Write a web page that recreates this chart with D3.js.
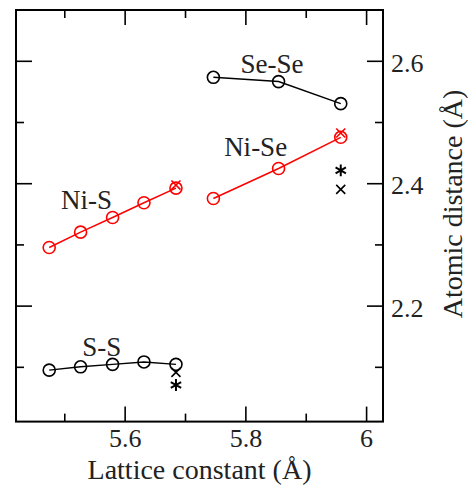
<!DOCTYPE html>
<html><head><meta charset="utf-8">
<script src="https://cdn.jsdelivr.net/npm/d3@7"></script>
<style>body{margin:0;background:#fff}svg{display:block}
svg text{font-family:"Liberation Serif","DejaVu Serif",serif !important;}</style>
</head><body>
<script>
// Data
const ssX = [5.475, 5.527, 5.580, 5.632, 5.685];
const ssY = [2.0946, 2.100, 2.104, 2.108, 2.104];
const nisX = [5.475, 5.527, 5.580, 5.632, 5.685];
const nisY = [2.295, 2.320, 2.344, 2.368, 2.392];
const niseX = [5.747, 5.855, 5.958];
const niseY = [2.375, 2.424, 2.475];
const seseX = [5.747, 5.855, 5.958];
const seseY = [2.573, 2.566, 2.530];
const redCrossX = [5.685, 5.958];
const redCrossY = [2.397, 2.482];
const blackStarX = [5.958, 5.685];
const blackStarY = [2.421, 2.0703];
const blackCrossX = [5.958, 5.685];
const blackCrossY = [2.390, 2.091];
const xMajor = [5.6, 5.8, 6.0];
const xMinor = [5.5, 5.7, 5.9];
const yMajor = [2.2, 2.4, 2.6];
const yMinor = [2.1, 2.3, 2.5];
const labels = [
  {text: "Se-Se", x: 5.844, y: 2.58},
  {text: "Ni-Se", x: 5.817, y: 2.444},
  {text: "Ni-S", x: 5.537, y: 2.358},
  {text: "S-S", x: 5.562, y: 2.117}
];

const W = 470, H = 485;
const L = 16, R = 383, T = 10, B = 421.6;
const svg = d3.select("body").append("svg").attr("width", W).attr("height", H);
const x = d3.scaleLinear().domain([5.42, 6.028]).range([L, R]);
const y = d3.scaleLinear().domain([2.0105, 2.683]).range([B, T]);
const font = "Liberation Serif";
const txt = "#222";

function axisStyle(g) {
  g.attr("font-family", font);
  g.select(".domain").remove();
  g.selectAll("line").attr("stroke", "#000").attr("stroke-width", 1.6);
  g.selectAll("text").attr("font-family", font).attr("font-size", 26).attr("fill", txt);
}
// bottom
svg.append("g").attr("transform", `translate(0,${B})`)
  .call(d3.axisBottom(x).tickValues(xMajor).tickSize(-15).tickSizeOuter(0).tickPadding(7).tickFormat(d3.format("~g")))
  .call(axisStyle);
svg.append("g").attr("transform", `translate(0,${B})`)
  .call(d3.axisBottom(x).tickValues(xMinor).tickSize(-8).tickSizeOuter(0).tickFormat(""))
  .call(axisStyle);
// top
svg.append("g").attr("transform", `translate(0,${T})`)
  .call(d3.axisTop(x).tickValues(xMajor).tickSize(-15).tickSizeOuter(0).tickFormat(""))
  .call(axisStyle);
svg.append("g").attr("transform", `translate(0,${T})`)
  .call(d3.axisTop(x).tickValues(xMinor).tickSize(-8).tickSizeOuter(0).tickFormat(""))
  .call(axisStyle);
// right
svg.append("g").attr("transform", `translate(${R},0)`)
  .call(d3.axisRight(y).tickValues(yMajor).tickSize(-16).tickSizeOuter(0).tickPadding(8).tickFormat(d3.format(".1f")))
  .call(axisStyle)
  .call(g => g.selectAll("text").attr("dy", "0.4em"));
svg.append("g").attr("transform", `translate(${R},0)`)
  .call(d3.axisRight(y).tickValues(yMinor).tickSize(-8).tickSizeOuter(0).tickFormat(""))
  .call(axisStyle);
// left
svg.append("g").attr("transform", `translate(${L},0)`)
  .call(d3.axisLeft(y).tickValues(yMajor).tickSize(-16).tickSizeOuter(0).tickFormat(""))
  .call(axisStyle);
svg.append("g").attr("transform", `translate(${L},0)`)
  .call(d3.axisLeft(y).tickValues(yMinor).tickSize(-8).tickSizeOuter(0).tickFormat(""))
  .call(axisStyle);

// frame
svg.append("rect").attr("x", L).attr("y", T).attr("width", R - L).attr("height", B - T)
  .attr("fill", "none").attr("stroke", "#000").attr("stroke-width", 2);

const line = d3.line().x(d => x(d[0])).y(d => y(d[1]));
function series(xs, ys, color) {
  const pts = xs.map((v, i) => [v, ys[i]]);
  svg.append("path").datum(pts).attr("d", line).attr("fill", "none")
    .attr("stroke", color).attr("stroke-width", 1.5);
  svg.selectAll(null).data(pts).enter().append("circle")
    .attr("cx", d => x(d[0])).attr("cy", d => y(d[1])).attr("r", 6)
    .attr("fill", "none").attr("stroke", color).attr("stroke-width", 1.6);
}
series(ssX, ssY, "#000");
series(nisX, nisY, "#ff0000");
series(niseX, niseY, "#ff0000");
series(seseX, seseY, "#000");

function markers(xs, ys, type, size, color, sw) {
  const pts = xs.map((v, i) => [v, ys[i]]);
  svg.selectAll(null).data(pts).enter().append("path")
    .attr("transform", d => `translate(${x(d[0])},${y(d[1])})`)
    .attr("d", d3.symbol(type, size)())
    .attr("fill", "none").attr("stroke", color).attr("stroke-width", sw);
}
markers(redCrossX, redCrossY, d3.symbolTimes, 55, "#ff0000", 1.6);
markers(blackCrossX, blackCrossY, d3.symbolTimes, 55, "#000", 1.6);
markers(blackStarX, blackStarY, d3.symbolAsterisk, 100, "#000", 2);

// labels
svg.selectAll(null).data(labels).enter().append("text")
  .attr("x", d => x(d.x)).attr("y", d => y(d.y)).attr("text-anchor", "middle")
  .attr("font-family", font).attr("font-size", 27).attr("fill", txt)
  .text(d => d.text);

// axis titles
svg.append("text").attr("x", (L + R) / 2).attr("y", 479).attr("text-anchor", "middle")
  .attr("font-family", font).attr("font-size", 28).attr("fill", txt)
  .text("Lattice constant (Å)");
svg.append("text").attr("transform", `translate(462,204) rotate(-90)`).attr("text-anchor", "middle")
  .attr("font-family", font).attr("font-size", 28).attr("fill", txt)
  .text("Atomic distance (Å)");
</script>
</body></html>
